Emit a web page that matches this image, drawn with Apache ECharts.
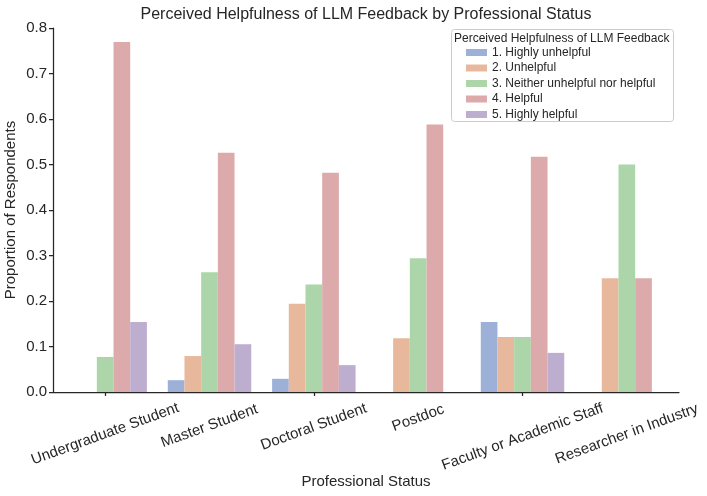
<!DOCTYPE html>
<html>
<head>
<meta charset="utf-8">
<script src="https://cdn.jsdelivr.net/npm/echarts@6/dist/echarts.min.js"></script>
<style>
  html, body { margin: 0; padding: 0; background: #fff; }
  #main { width: 707px; height: 496px; }
</style>
</head>
<body>
<div id="main"></div>
<script>
// categories and values
var categories = ['Undergraduate Student', 'Master Student', 'Doctoral Student', 'Postdoc', 'Faculty or Academic Staff', 'Researcher in Industry'];
var levels = ['1. Highly unhelpful', '2. Unhelpful', '3. Neither unhelpful nor helpful', '4. Helpful', '5. Highly helpful'];
var highlyUnhelpful = ['-', 0.026, 0.029, '-', 0.154, '-'];
var unhelpful = ['-', 0.079, 0.194, 0.118, 0.121, 0.25];
var neither = [0.077, 0.263, 0.236, 0.294, 0.121, 0.5];
var helpful = [0.769, 0.526, 0.482, 0.588, 0.517, 0.25];
var highlyHelpful = [0.154, 0.105, 0.059, '-', 0.086, '-'];

var colors = ['#9db1d8', '#e8b89c', '#acd6a9', '#dcaaab', '#bdadcf'];
var font = 'Liberation Sans, Arial, sans-serif';
var ink = '#262626';

// matplotlib centres rotated labels under the tick, so longer labels hang lower.
// one label-only axis per category, each with its own margin
var labelMargin = [42, 34, 35, 26, 45, 42];

var chart = echarts.init(document.getElementById('main'));
var allValues = [highlyUnhelpful, unhelpful, neither, helpful, highlyHelpful];

var xAxes = [{
    type: 'category',
    data: categories,
    position: 'bottom',
    name: 'Professional Status',
    nameLocation: 'middle',
    nameGap: 82,
    nameMoveOverlap: false,
    nameTextStyle: { fontFamily: font, fontSize: 15, color: ink },
    axisLine: { lineStyle: { color: ink, width: 1.25 } },
    axisTick: { show: true, alignWithLabel: true, length: 4, lineStyle: { color: ink, width: 1.25 } },
    axisLabel: { show: false },
    splitLine: { show: false }
}];
categories.forEach(function (c, i) {
    xAxes.push({
        type: 'category',
        data: categories,
        position: 'bottom',
        axisLine: { show: false },
        axisTick: { show: false },
        splitLine: { show: false },
        axisLabel: {
            interval: function (idx) { return idx === i; },
            rotate: 20, margin: labelMargin[i],
            align: 'center', verticalAlign: 'middle',
            hideOverlap: false,
            fontFamily: font, fontSize: 15, color: ink
        }
    });
});

var option = {
    animation: false,
    color: colors,
    title: [{
        text: 'Perceived Helpfulness of LLM Feedback by Professional Status',
        left: 366, top: 7, textAlign: 'center', padding: 0,
        textStyle: { fontFamily: font, fontSize: 16, fontWeight: 'normal', color: ink }
    }, {
        text: 'Perceived Helpfulness of LLM Feedback',
        left: 454, top: 32.5, padding: 0,
        textStyle: { fontFamily: font, fontSize: 12, fontWeight: 'normal', color: ink }
    }],
    graphic: [{
        type: 'rect',
        shape: { x: 451.5, y: 29.5, width: 222, height: 92, r: 3 },
        style: { fill: 'rgba(255,255,255,0.8)', stroke: '#cccccc', lineWidth: 1 },
        z: -1
    }],
    legend: {
        data: levels,
        orient: 'vertical',
        left: 466, top: 46.5, padding: 0,
        itemWidth: 21, itemHeight: 7, itemGap: 3.5,
        icon: 'rect',
        textStyle: { fontFamily: font, fontSize: 12, color: ink }
    },
    grid: { left: 53, right: 28, top: 28, bottom: 104, containLabel: false, outerBoundsMode: 'none' },
    xAxis: xAxes,
    yAxis: {
        type: 'value',
        min: 0, max: 0.8, interval: 0.1,
        name: 'Proportion of Respondents',
        nameLocation: 'middle',
        nameGap: 35,
        nameMoveOverlap: false,
        nameTextStyle: { fontFamily: font, fontSize: 15, color: ink },
        axisLine: { show: true, lineStyle: { color: ink, width: 1.25 } },
        axisTick: { show: true, length: 4, lineStyle: { color: ink, width: 1.25 } },
        axisLabel: {
            margin: 6, fontFamily: font, fontSize: 15, color: ink,
            formatter: function (v) { return v.toFixed(1); }
        },
        splitLine: { show: false }
    },
    series: levels.map(function (name, i) {
        return {
            name: name,
            type: 'bar',
            xAxisIndex: 0,
            data: allValues[i],
            barGap: '0%',
            barCategoryGap: '20%',
            itemStyle: { color: colors[i] }
        };
    })
};
chart.setOption(option);
</script>
</body>
</html>
